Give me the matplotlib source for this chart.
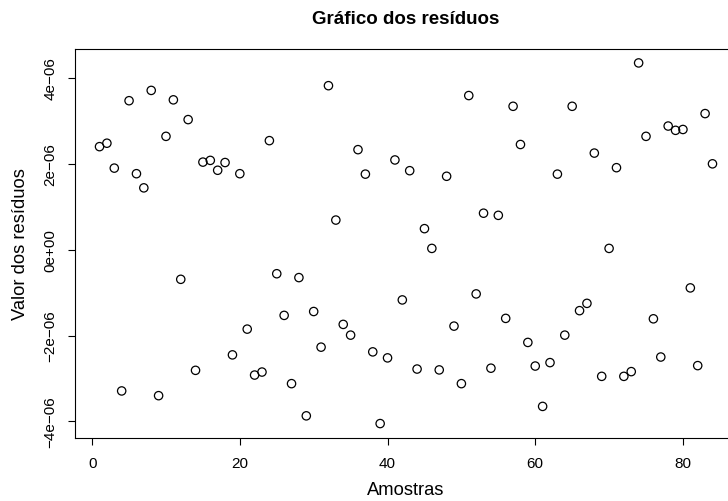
import numpy as np
import matplotlib
matplotlib.use("Agg")
import matplotlib.pyplot as plt

amostras = list(range(1, 85))
residuos_e6 = [
    2.40, 2.48, 1.90, -3.29, 3.47, 1.77, 1.44, 3.71, -3.40, 2.64,
    3.49, -0.69, 3.03, -2.81, 2.04, 2.08, 1.85, 2.03, -2.45, 1.77,
    -1.85, -2.92, -2.85, 2.54, -0.56, -1.53, -3.12, -0.65, -3.87, -1.44,
    -2.27, 3.82, 0.69, -1.74, -1.99, 2.33, 1.76, -2.38, -4.05, -2.52,
    2.09, -1.17, 1.84, -2.78, 0.49, 0.03, -2.80, 1.71, -1.78, -3.12,
    3.59, -1.03, 0.85, -2.76, 0.80, -1.60, 3.34, 2.45, -2.16, -2.71,
    -3.65, -2.63, 1.76, -1.99, 3.34, -1.42, -1.25, 2.25, -2.95, 0.03,
    1.91, -2.95, -2.84, 4.35, 2.64, -1.61, -2.50, 2.88, 2.78, 2.80,
    -0.89, -2.70, 3.17, 2.00,
]
residuos = [v * 1e-6 for v in residuos_e6]

xticks = [0, 20, 40, 60, 80]
yticks = [-4e-6, -2e-6, 0.0, 2e-6, 4e-6]
yticklabels = ["\u22124e\u221206", "\u22122e\u221206", "0e+00", "2e\u221206", "4e\u221206"]

titulo = "Gráfico dos resíduos"
xlabel = "Amostras"
ylabel = "Valor dos resíduos"

plt.rcParams['font.family'] = ['Liberation Sans', 'DejaVu Sans']

W, H = 728, 502
fig = plt.figure(figsize=(W / 100, H / 100), dpi=100)
left, right, top, bottom = 75, 737, 49.5, 439
ax = fig.add_axes([left / W, (H - bottom) / H, (right - left) / W, (bottom - top) / H])

ax.scatter(amostras, residuos, s=36, facecolors='none', edgecolors='black', linewidths=0.9)

def ext(vals):
    lo, hi = min(vals), max(vals)
    d = (hi - lo) * 0.04
    return lo - d, hi + d

ax.set_xlim(*ext(amostras))
ax.set_ylim(*ext(residuos))

ax.set_xticks(xticks)
ax.set_xticklabels([str(t) for t in xticks], fontsize=11)
ax.set_yticks(yticks)
ax.set_yticklabels(yticklabels, fontsize=11, rotation=90, va='center')
ax.tick_params(axis='x', length=5, width=0.8, pad=8, direction='out')
ax.tick_params(axis='y', length=5, width=0.8, pad=7.5, direction='out')
for s in ax.spines.values():
    s.set_linewidth(0.8)

fig.text((left + 737) / 2 / W, 1 - 491 / H, xlabel, ha='center', va='center', fontsize=13.2)
fig.text(20.5 / W, 1 - (top + bottom) / 2 / H, ylabel, ha='center', va='center',
         rotation=90, fontsize=13.2)
fig.text((left + right) / 2 / W, 1 - 19.5 / H, titulo, ha='center', va='center',
         fontsize=13.5, fontweight='bold')

fig.savefig("out.png", dpi=100)
